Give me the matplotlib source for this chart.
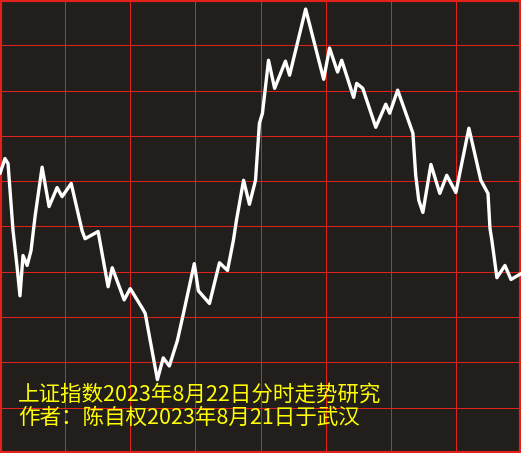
import matplotlib
matplotlib.use('Agg')
import matplotlib.pyplot as plt
from matplotlib.ticker import MultipleLocator

# 分时走势 (上证指数 2023-08-22), x = 交易分钟, y = 网格单位
minutes = [0, 2.3, 3.7, 6.0, 7.8, 9.2, 10.6, 12.5, 14.3, 16.2, 19.4, 22.6, 26.3,
           28.6, 32.8, 37.8, 39.2, 45.2, 49.8, 51.7, 57.2, 60.0, 66.0, 66.9,
           72.5, 75.2, 78.0, 81.7, 84.5, 89.5, 91.4, 96.5, 101.1, 104.8, 107.5,
           108.9, 112.2, 114.9, 117.7, 119.5, 120.9, 123.7, 126.5, 131.5, 133.4,
           140.8, 149.1, 151.8, 155.5, 157.4, 162.9, 164.3, 167.1, 173.1, 177.7,
           179.5, 183.2, 190.2, 191.5, 192.9, 194.8, 198.5, 202.6, 205.8, 210.0,
           216.0, 221.5, 224.8, 225.7, 226.6, 228.9, 232.6, 235.4, 240.0]
level = [6.17, 6.50, 6.39, 4.91, 4.14, 3.47, 4.36, 4.14, 4.47, 5.24, 6.31, 5.44,
         5.86, 5.66, 5.95, 4.91, 4.73, 4.89, 3.67, 4.09, 3.38, 3.63, 3.16, 3.08,
         1.62, 2.10, 1.92, 2.48, 3.08, 4.18, 3.58, 3.30, 4.20, 4.03, 4.69, 5.13,
         6.02, 5.49, 6.02, 7.28, 7.50, 8.67, 8.05, 8.65, 8.34, 9.80, 8.25, 8.94,
         8.41, 8.67, 7.85, 8.16, 8.05, 7.19, 7.70, 7.50, 8.01, 7.06, 6.13, 5.58,
         5.31, 6.37, 5.73, 6.13, 5.75, 7.17, 6.02, 5.73, 4.96, 4.69, 3.87, 4.14,
         3.83, 3.96]

title_lines = ['上证指数2023年8月22日分时走势研究',
               '作者：陈自权2023年8月21日于武汉']

BG = '#221e1c'
GRID_RED = '#e3211b'

fig = plt.figure(figsize=(5.21, 4.53), dpi=100)
fig.patch.set_facecolor(BG)
ax = fig.add_axes([0, 0, 1, 1])
ax.set_facecolor(BG)

ax.plot(minutes, level, color='white', linewidth=2.4,
        solid_joinstyle='round', solid_capstyle='round', zorder=3)

ax.set_xlim(0, 240)
ax.set_ylim(0, 10)
ax.xaxis.set_major_locator(MultipleLocator(30))
ax.yaxis.set_major_locator(MultipleLocator(1))
ax.grid(True, color=GRID_RED, linewidth=0.72, antialiased=False)
ax.tick_params(length=0, labelbottom=False, labelleft=False)
for sp in ax.spines.values():
    sp.set_color(GRID_RED)
    sp.set_linewidth(3)

for i, txt in enumerate(title_lines):
    ax.text(0.035, 0.128 - i * 0.05, txt, transform=ax.transAxes,
            color='#ffff00', fontsize=15.5, va='center', ha='left',
            family=['Noto Sans CJK SC', 'DejaVu Sans'], zorder=4)

fig.savefig('out.png', dpi=100, facecolor=BG)
